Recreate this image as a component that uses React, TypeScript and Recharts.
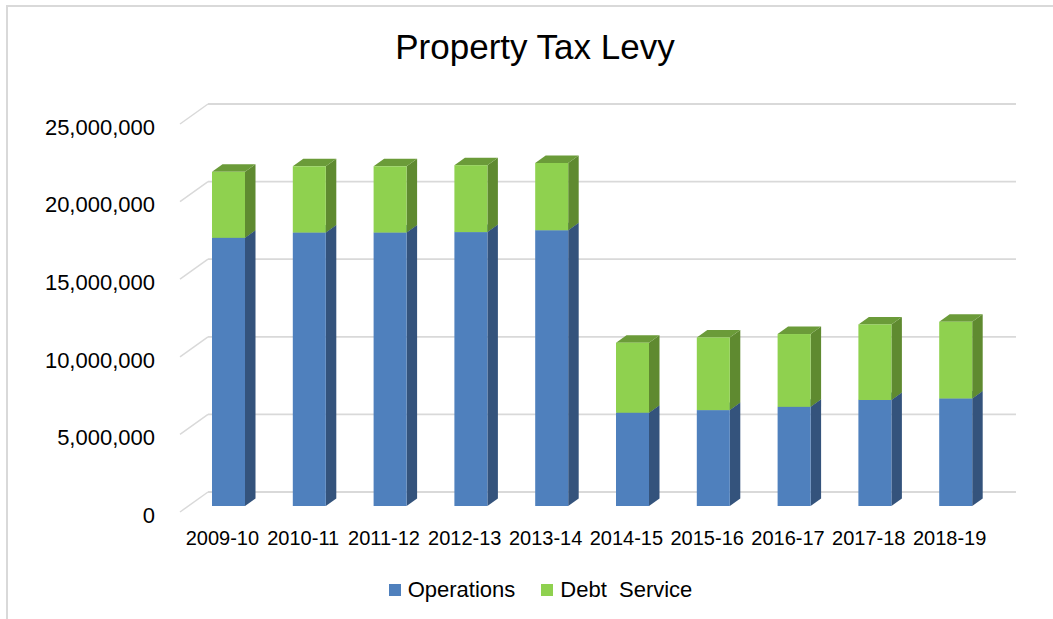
import React from "react";
import {
  BarChart,
  Bar,
  XAxis,
  YAxis,
  CartesianGrid,
  Legend,
  Customized,
} from "recharts";

const years = [
  "2009-10",
  "2010-11",
  "2011-12",
  "2012-13",
  "2013-14",
  "2014-15",
  "2015-16",
  "2016-17",
  "2017-18",
  "2018-19",
];
const operations = [
  17280000, 17620000, 17620000, 17650000, 17770000, 6010000, 6180000, 6390000,
  6830000, 6930000,
];
const debtService = [
  4250000, 4270000, 4270000, 4310000, 4330000, 4510000, 4680000, 4690000,
  4870000, 4940000,
];
const yTicks = [0, 5000000, 10000000, 15000000, 20000000, 25000000];

const data = years.map((year, i) => ({
  year,
  operations: operations[i],
  debt: debtService[i],
}));

const W = 1053;
const H = 619;
const FONT = "'Liberation Sans', Arial, sans-serif";

// oblique 3D geometry
const WALL_DX = 28;
const WALL_DY = -20;
const BAR_OFF_X = 8;
const BAR_OFF_Y = -6;
const DEPTH_X = 10.5;
const DEPTH_Y = -7.5;

const makeShape =
  (front: string, side: string, top: string) => (props: any) => {
    const { x, y, width, height } = props;
    if (height == null || width == null || isNaN(y)) return <g />;
    const fx = x + BAR_OFF_X;
    const fy = y + BAR_OFF_Y;
    const w = width;
    const h = height;
    const sidePts = [
      [fx + w, fy],
      [fx + w + DEPTH_X, fy + DEPTH_Y],
      [fx + w + DEPTH_X, fy + h + DEPTH_Y],
      [fx + w, fy + h],
    ]
      .map((p) => p.join(","))
      .join(" ");
    const topPts = [
      [fx, fy],
      [fx + DEPTH_X, fy + DEPTH_Y],
      [fx + w + DEPTH_X, fy + DEPTH_Y],
      [fx + w, fy],
    ]
      .map((p) => p.join(","))
      .join(" ");
    return (
      <g>
        <polygon points={sidePts} fill={side} />
        <polygon points={topPts} fill={top} />
        <rect x={fx} y={fy} width={w} height={h} fill={front} />
      </g>
    );
  };

const opsShape = makeShape("#4F80BD", "#34537C", "#3F6698");
const debtShape = makeShape("#8FD14F", "#5F8A30", "#6B9B39");

const gridLine = (props: any) => {
  const { x1, y1, x2, key } = props;
  return (
    <g key={key}>
      <line
        x1={x1}
        y1={y1}
        x2={x1 + WALL_DX}
        y2={y1 + WALL_DY}
        stroke="#D9D9D9"
        strokeWidth={1.5}
      />
      <line
        x1={x1 + WALL_DX}
        y1={y1 + WALL_DY}
        x2={x2 + WALL_DX}
        y2={y1 + WALL_DY}
        stroke="#D9D9D9"
        strokeWidth={1.8}
      />
    </g>
  );
};

const fmt = (v: number) => v.toLocaleString("en-US");

const YTick = (props: any) => {
  const { x, y, payload } = props;
  return (
    <text
      x={x}
      y={y + 3}
      dy="0.355em"
      dx={-17}
      textAnchor="end"
      fontFamily={FONT}
      fontSize={22}
      fill="#000"
    >
      {fmt(payload.value)}
    </text>
  );
};

const legendItems = [
  { label: "Operations", color: "#4F80BD" },
  { label: "Debt  Service", color: "#8FD14F" },
];

const LegendContent = () => (
  <div
    style={{
      display: "flex",
      justifyContent: "center",
      alignItems: "center",
      height: 30,
      width: W,
      paddingLeft: 28,
      boxSizing: "border-box",
      fontFamily: FONT,
      fontSize: 22,
      color: "#000",
    }}
  >
    {legendItems.map((it, i) => (
      <span
        key={it.label}
        style={{
          display: "inline-flex",
          alignItems: "center",
          marginLeft: i === 0 ? 0 : 26,
          whiteSpace: "pre",
        }}
      >
        <span
          style={{
            display: "inline-block",
            width: 12,
            height: 12,
            background: it.color,
            marginRight: 7,
          }}
        />
        {it.label}
      </span>
    ))}
  </div>
);

const Decor = () => (
  <g>
    <rect
      x={7}
      y={6}
      width={W + 20}
      height={H + 20}
      fill="none"
      stroke="#D9D9D9"
      strokeWidth={2}
    />
    <text
      x={535}
      y={59}
      textAnchor="middle"
      fontFamily={FONT}
      fontSize={35}
      fill="#000"
    >
      Property Tax Levy
    </text>
  </g>
);

export default function App() {
  return (
    <div style={{ position: "absolute", left: 0, top: 0, background: "#fff" }}>
      <BarChart
        width={W}
        height={H}
        data={data}
        margin={{ top: 124, right: 65, bottom: 14, left: 0 }}
        barSize={33}
      >
        <Customized component={Decor} />
        <CartesianGrid
          vertical={false}
          horizontal={gridLine}
          horizontalValues={yTicks}
        />
        <YAxis
          width={180}
          domain={[0, 25000000]}
          ticks={yTicks}
          axisLine={false}
          tickLine={false}
          tick={<YTick />}
          interval={0}
        />
        <XAxis
          dataKey="year"
          height={63}
          axisLine={false}
          tickLine={false}
          interval={0}
          tickMargin={13}
          tick={{ fontFamily: FONT, fontSize: 20, fill: "#000", dx: 2 }}
        />
        <Legend
          verticalAlign="bottom"
          align="left"
          wrapperStyle={{ left: 0, width: W }}
          content={<LegendContent />}
        />
        <Bar
          dataKey="operations"
          stackId="a"
          fill="#4F80BD"
          shape={opsShape}
          isAnimationActive={false}
          name="Operations"
        />
        <Bar
          dataKey="debt"
          stackId="a"
          fill="#8FD14F"
          shape={debtShape}
          isAnimationActive={false}
          name="Debt  Service"
        />
      </BarChart>
    </div>
  );
}
